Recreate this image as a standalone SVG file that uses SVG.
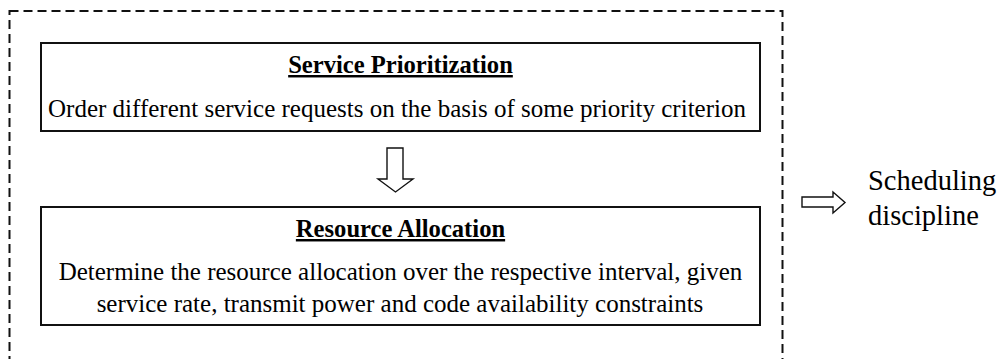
<svg xmlns="http://www.w3.org/2000/svg" width="997" height="359" viewBox="0 0 997 359">
<style>
text{font-family:"Liberation Serif","Times New Roman",serif;fill:#000}
.t{font-size:24.6px;font-weight:bold;text-decoration:underline;text-anchor:middle}
.b{font-size:25px;text-anchor:middle}
.s{font-size:28.5px}
.box{fill:#fff;stroke:#111;stroke-width:2}
.arr{fill:#fff;stroke:#111;stroke-width:1.4;stroke-linejoin:miter}
</style>
<rect x="0" y="0" width="997" height="359" fill="#fff"/>
<g id="container">
<rect x="9.5" y="11" width="773" height="370" fill="none" stroke="#111" stroke-width="2" stroke-dasharray="9,5"/>
</g>
<g id="prioritization">
<rect class="box" x="41" y="43" width="719" height="88"/>
<text class="t" x="400.5" y="73">Service Prioritization</text>
<text class="b" x="397" y="117">Order different service requests on the basis of some priority criterion</text>
</g>
<g id="allocation">
<rect class="box" x="41" y="207" width="719" height="118"/>
<text class="t" x="400.5" y="237">Resource Allocation</text>
<text class="b" x="400.5" y="280">Determine the resource allocation over the respective interval, given</text>
<text class="b" x="400" y="312">service rate, transmit power and code availability constraints</text>
</g>
<g id="output">
<text class="s" x="868" y="190">Scheduling</text>
<text class="s" x="868" y="225">discipline</text>
</g>
<g id="connectors">
<polygon class="arr" points="387,148 403,148 403,179 413,179 395.5,192 378,179 387,179"/>
<polygon class="arr" points="802,197 833,197 833,192 845,202.5 833,213 833,207 802,207"/>
</g>
</svg>
